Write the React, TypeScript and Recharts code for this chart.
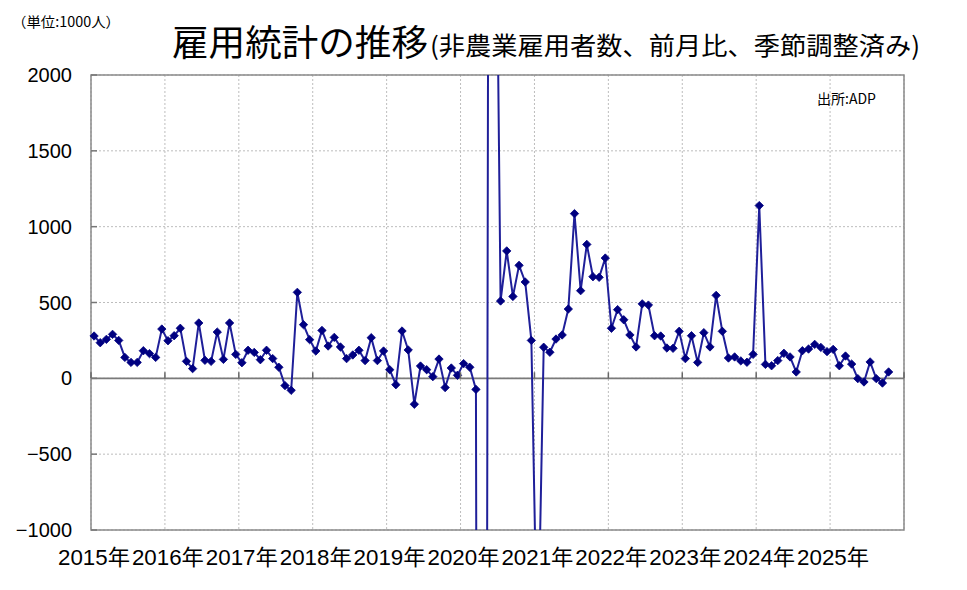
import { CartesianGrid, Line, LineChart, ReferenceArea, ReferenceLine, XAxis, YAxis } from 'recharts';

// monthly change in nonfarm payrolls (thousands)
const y2015 = [279, 235, 257, 290, 250, 138, 105, 105, 182, 163, 138, 325];
const y2016 = [248, 281, 330, 112, 64, 365, 119, 112, 305, 125, 365, 158];
const y2017 = [103, 185, 171, 123, 185, 130, 73, -48, -79, 567, 354, 255];
const y2018 = [180, 316, 213, 270, 207, 130, 154, 185, 117, 268, 117, 180];
const y2019 = [57, -42, 312, 187, -171, 81, 57, 11, 127, -61, 68, 20];
const y2020 = [97, 73, -73, -19500, 3000, 4400, 510, 840, 540, 745, 635, 250];
const y2021 = [-1920, 205, 172, 259, 286, 457, 1086, 578, 883, 670, 666, 793];
const y2022 = [330, 453, 386, 286, 207, 491, 483, 281, 279, 200, 198, 310];
const y2023 = [130, 281, 105, 301, 207, 547, 310, 134, 141, 115, 106, 158];
const y2024 = [1139, 92, 83, 117, 165, 141, 42, 182, 193, 224, 204, 176];
const y2025 = [191, 83, 147, 94, -2, -24, 108, -2, -31, 42];

const startYear = 2015;
const yearCount = 11;
const yearTicks = [0, 12, 24, 36, 48, 60, 72, 84, 96, 108, 120, 132];
const valueTicks = [-1000, -500, 0, 500, 1000, 1500, 2000];

const monthly = [
  ...y2015, ...y2016, ...y2017, ...y2018, ...y2019, ...y2020,
  ...y2021, ...y2022, ...y2023, ...y2024, ...y2025,
];
const data = monthly.map((value, i) => ({ month: i + 0.5, value }));

const W = 967;
const H = 590;
const PLOT_LEFT = 91;
const PLOT_TOP = 75;
const PLOT_H = 455;
const ZERO_Y = PLOT_TOP + (PLOT_H * 2000) / 3000;

const NAVY = '#000080';
const LINE = '#1f1f99';
const NUM_FONT = '"Liberation Sans", Arial, "Noto Sans CJK JP", sans-serif';
const JP_FONT = '"Noto Sans CJK JP", "Noto Sans CJK SC", sans-serif';

function YearTick(props: any) {
  const { x, y, payload } = props;
  const idx = payload.value / 12;
  return (
    <g>
      <line x1={x} x2={x} y1={ZERO_Y - 6} y2={ZERO_Y} stroke="#666" strokeWidth={1.5} />
      {idx < yearCount && (
        <text
          x={x + 3}
          y={y + 27}
          textAnchor="middle"
          fontFamily={NUM_FONT}
          fontSize={22}
          fill="#000"
          textLength={72}
          lengthAdjust="spacingAndGlyphs"
        >
          {`${startYear + idx}年`}
        </text>
      )}
    </g>
  );
}

function ValueTick(props: any) {
  const { y, payload } = props;
  const v = payload.value as number;
  return (
    <g>
      <line x1={PLOT_LEFT} x2={PLOT_LEFT + 6} y1={y} y2={y} stroke="#777" strokeWidth={1.5} />
      <text x={72} y={y + 7} textAnchor="end" fontFamily={NUM_FONT} fontSize={20} fill="#000">
        {v < 0 ? `−${Math.abs(v)}` : v}
      </text>
    </g>
  );
}

function Diamond(props: any) {
  const { cx, cy, value, index } = props;
  if (cx == null || cy == null || value == null || value > 2000 || value < -1000) {
    return <g key={`d${index}`} />;
  }
  const r = 4.2;
  return (
    <polygon
      key={`d${index}`}
      points={`${cx},${cy - r} ${cx + r},${cy} ${cx},${cy + r} ${cx - r},${cy}`}
      fill={NAVY}
      stroke={NAVY}
      strokeWidth={0.8}
    />
  );
}

export default function App() {
  return (
    <div style={{ position: 'absolute', left: 0, top: 0, width: W, height: H, background: '#fff' }}>
      <LineChart width={W} height={H} data={data} margin={{ top: PLOT_TOP, right: 63, bottom: 20, left: 11 }}>
        <CartesianGrid stroke="#bdbdbd" strokeDasharray="2 2" />
        <XAxis
          type="number"
          dataKey="month"
          domain={[0, 132]}
          ticks={yearTicks}
          interval={0}
          axisLine={false}
          tickLine={false}
          height={40}
          tick={<YearTick />}
        />
        <YAxis
          type="number"
          domain={[-1000, 2000]}
          ticks={valueTicks}
          interval={0}
          allowDataOverflow
          axisLine={false}
          tickLine={false}
          width={80}
          tick={<ValueTick />}
        />
        <ReferenceArea x1={0} x2={132} y1={-1000} y2={2000} fill="none" stroke="#8a8a8a" strokeWidth={1.5} />
        <ReferenceLine y={0} stroke="#7a7a7a" strokeWidth={1.6} />
        <Line
          type="linear"
          dataKey="value"
          stroke={LINE}
          strokeWidth={2}
          dot={<Diamond />}
          activeDot={false}
          isAnimationActive={false}
        />
      </LineChart>
      <svg width={W} height={H} style={{ position: 'absolute', left: 0, top: 0, pointerEvents: 'none' }}>
        <text
          x={12}
          y={27}
          fontFamily={JP_FONT}
          fontSize={14}
          fill="#000"
          textLength={108}
          lengthAdjust="spacingAndGlyphs"
        >
          （単位:1000人）
        </text>
        <text
          x={172}
          y={56}
          fontFamily={JP_FONT}
          fontSize={36}
          fill="#000"
          textLength={256}
          lengthAdjust="spacingAndGlyphs"
        >
          雇用統計の推移
        </text>
        <text
          x={430}
          y={55}
          fontFamily={JP_FONT}
          fontSize={25}
          fill="#000"
          textLength={490}
          lengthAdjust="spacingAndGlyphs"
        >
          (非農業雇用者数、前月比、季節調整済み)
        </text>
        <text x={817} y={104} fontFamily={JP_FONT} fontSize={14} fill="#000">
          出所:ADP
        </text>
      </svg>
    </div>
  );
}
